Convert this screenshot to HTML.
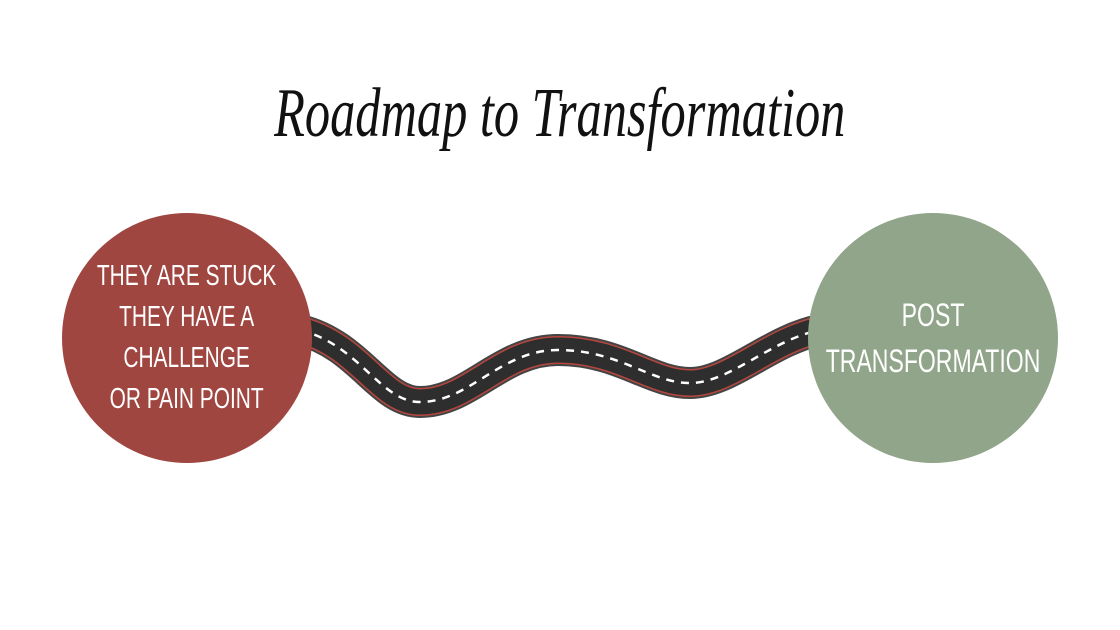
<!DOCTYPE html>
<html><head><meta charset="utf-8"><style>
html,body{margin:0;padding:0;background:#fff;}
body{width:1120px;height:630px;position:relative;overflow:hidden;}
.t{position:absolute;left:0;width:1120px;top:74px;text-align:center;font-family:"Liberation Serif",serif;font-style:italic;font-size:70px;color:#111;}
.t span{display:inline-block;transform:scaleX(0.72);transform-origin:center;}
.c{position:absolute;width:250px;height:250px;border-radius:50%;display:flex;align-items:center;justify-content:center;text-align:center;color:#fff;font-family:"Liberation Sans",sans-serif;font-size:29px;line-height:41px;}
.c span{display:inline-block;transform:scaleX(0.72);white-space:nowrap;}
</style></head><body>
<div class="t"><span>Roadmap to Transformation</span></div>
<svg width="1120" height="630" style="position:absolute;left:0;top:0">
<path d="M300,330 C360,345 380,402 420,402 C470,402 500,350 558,350 C620,350 650,383 690,383 C730,383 770,340 820,330" fill="none" stroke="#444" stroke-width="32"/>
<path d="M300,330 C360,345 380,402 420,402 C470,402 500,350 558,350 C620,350 650,383 690,383 C730,383 770,340 820,330" fill="none" stroke="#b5473f" stroke-width="28"/>
<path d="M300,330 C360,345 380,402 420,402 C470,402 500,350 558,350 C620,350 650,383 690,383 C730,383 770,340 820,330" fill="none" stroke="#2e2e2e" stroke-width="25"/>
<path d="M300,330 C360,345 380,402 420,402 C470,402 500,350 558,350 C620,350 650,383 690,383 C730,383 770,340 820,330" fill="none" stroke="#fff" stroke-width="2.5" stroke-dasharray="8,7"/>
</svg>
<div class="c" style="left:62px;top:213px;background:#a04640"><span>THEY ARE STUCK<br>THEY HAVE A<br>CHALLENGE<br>OR PAIN POINT</span></div>
<div class="c" style="left:808px;top:213px;background:#91a58a;font-size:32px;line-height:46px"><span>POST<br>TRANSFORMATION</span></div>
</body></html>
